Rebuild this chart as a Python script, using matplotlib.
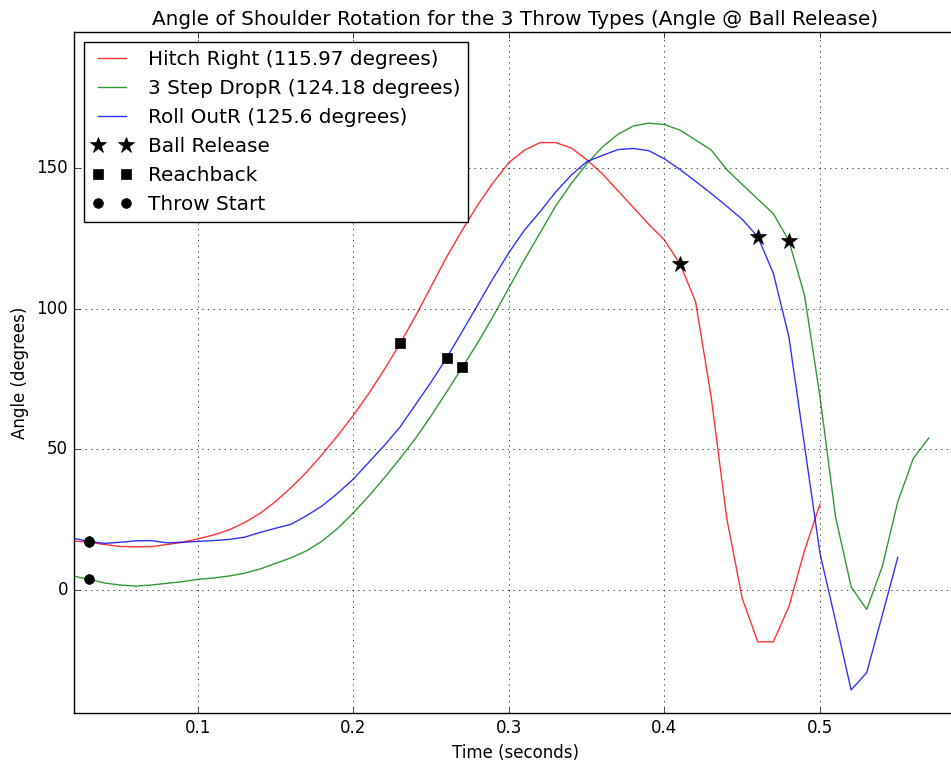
import matplotlib
matplotlib.use("Agg")
import matplotlib.pyplot as plt

plt.style.use("classic")
plt.rcParams["font.family"] = ["DejaVu Sans"]

time = [0.02, 0.03, 0.04, 0.05, 0.06, 0.07, 0.08, 0.09, 0.10, 0.11,
        0.12, 0.13, 0.14, 0.15, 0.16, 0.17, 0.18, 0.19, 0.20, 0.21,
        0.22, 0.23, 0.24, 0.25, 0.26, 0.27, 0.28, 0.29, 0.30, 0.31,
        0.32, 0.33, 0.34, 0.35, 0.36, 0.37, 0.38, 0.39, 0.40, 0.41,
        0.42, 0.43, 0.44, 0.45, 0.46, 0.47, 0.48, 0.49, 0.50, 0.51,
        0.52, 0.53, 0.54, 0.55, 0.56, 0.57]

hitch_right = [17.5, 17.0, 16.2, 15.5, 15.4, 15.4, 16.2, 17.0, 18.2, 19.6,
               21.4, 24.0, 27.3, 31.5, 36.5, 42.0, 48.3, 55.0, 62.2, 70.0,
               78.5, 87.7, 97.5, 108.0, 118.5, 128.0, 137.0, 145.0, 152.0, 156.4,
               159.1, 159.1, 157.2, 153.0, 148.0, 142.0, 136.0, 130.0, 124.4, 115.97,
               102.5, 68.7, 25.6, -3.0, -18.4, -18.4, -5.9, 14.0, 30.6]

three_step = [5.0, 3.8, 2.5, 1.8, 1.4, 1.8, 2.4, 3.0, 3.8, 4.3,
              5.0, 6.0, 7.5, 9.5, 11.5, 14.0, 17.5, 22.0, 27.5, 33.5,
              40.0, 46.8, 54.0, 62.0, 70.5, 79.2, 88.0, 97.5, 107.5, 117.5,
              127.0, 136.5, 144.5, 151.5, 157.5, 162.0, 165.0, 166.0, 165.5, 163.5,
              160.0, 156.5, 149.5, 144.2, 139.0, 133.8, 124.18, 104.9, 68.7, 26.0,
              1.2, -6.9, 8.3, 31.4, 46.8, 54.1]

roll_out = [18.4, 17.3, 16.6, 17.0, 17.5, 17.6, 16.8, 17.0, 17.3, 17.6,
            18.0, 18.8, 20.5, 22.0, 23.4, 26.5, 30.0, 34.5, 39.5, 45.5,
            51.5, 58.0, 66.0, 74.0, 82.6, 92.0, 101.5, 111.0, 120.0, 128.0,
            134.5, 141.5, 147.5, 152.3, 154.5, 156.6, 157.0, 156.2, 153.3, 149.5,
            145.3, 141.0, 136.5, 131.8, 125.6, 112.6, 90.0, 51.5, 13.0, -11.0,
            -35.5, -29.4, -9.0, 11.6]

labels = ["Hitch Right (115.97 degrees)", "3 Step DropR (124.18 degrees)",
          "Roll OutR (125.6 degrees)"]
colors = ["r", "g", "b"]

release_t = [0.41, 0.48, 0.46]
release_a = [115.97, 124.18, 125.6]
reach_t = [0.23, 0.27, 0.26]
reach_a = [87.7, 79.2, 82.6]
start_t = [0.03, 0.03, 0.03]
start_a = [17.0, 3.8, 17.3]

fig = plt.figure(figsize=(9.51, 7.64), dpi=100, facecolor="white")
W, H = 951.0, 764.0
ax = fig.add_axes([73.5 / W, (H - 713) / H, (957.5 - 73.5) / W, (713 - 32.3) / H])

for vals, c, lab in zip([hitch_right, three_step, roll_out], colors, labels):
    ax.plot(time[:len(vals)], vals, color=c, alpha=0.8, lw=1.0, label=lab)

ax.plot(release_t, release_a, "k*", markersize=12, linestyle="none", label="Ball Release")
ax.plot(reach_t, reach_a, "ks", markersize=6.5, linestyle="none", label="Reachback")
ax.plot(start_t, start_a, "ko", markersize=7, linestyle="none", label="Throw Start")

ax.set_xlim(0.02, 0.5884)
ax.set_ylim(-43.7, 198.3)
ax.set_xticks([0.1, 0.2, 0.3, 0.4, 0.5])
ax.set_yticks([0, 50, 100, 150])
ax.grid(True)
ax.set_xlabel("Time (seconds)")
ax.set_ylabel("Angle (degrees)")
ax.set_title("Angle of Shoulder Rotation for the 3 Throw Types (Angle @ Ball Release)",
             fontsize=14.4)
ax.legend(loc="upper left", numpoints=2, fontsize=14.4)

fig.savefig("out.png", dpi=100, facecolor="white")
